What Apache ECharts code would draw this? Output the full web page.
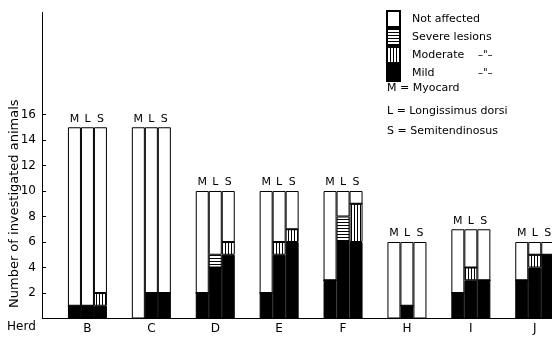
<!DOCTYPE html>
<html>
	<head>
		<meta charset="utf-8">
		<title></title>
		<style type="text/css">
			html, body { margin:0 ; padding:0 ; background:#fff ;}
			#chart { width:552px ; height:338px ;}
		</style>
		<script src="https://cdn.jsdelivr.net/npm/echarts@6/dist/echarts.min.js"></script>
	</head>
	<body>
		<div id="chart"></div>
		<script type="text/javascript">
		var herds = ['B', 'C', 'D', 'E', 'F', 'H', 'I', 'J'];
		var muscles = ['M', 'L', 'S'];
		var yTicks = [2, 4, 6, 8, 10, 12, 14, 16];

		// number of animals per herd, for each muscle
		var myoMild     = [1, 0, 2, 2, 3, 0, 2, 3];
		var myoModerate = [0, 0, 0, 0, 0, 0, 0, 0];
		var myoSevere   = [0, 0, 0, 0, 0, 0, 0, 0];
		var myoNot      = [14, 15, 8, 8, 7, 6, 5, 3];

		var lonMild     = [1, 2, 4, 5, 6, 1, 3, 4];
		var lonModerate = [0, 0, 0, 1, 0, 0, 1, 1];
		var lonSevere   = [0, 0, 1, 0, 2, 0, 0, 0];
		var lonNot      = [14, 13, 5, 4, 2, 5, 3, 1];

		var semMild     = [1, 2, 5, 6, 6, 0, 3, 5];
		var semModerate = [1, 0, 1, 1, 3, 0, 0, 0];
		var semSevere   = [0, 0, 0, 0, 0, 0, 0, 0];
		var semNot      = [13, 13, 4, 3, 1, 6, 4, 1];

		var table = {
			M: [myoMild, myoModerate, myoSevere, myoNot],
			L: [lonMild, lonModerate, lonSevere, lonNot],
			S: [semMild, semModerate, semSevere, semNot]
		};
		var levels = ['Mild', 'Moderate', 'Severe lesions', 'Not affected'];

		// hatch patterns
		function hatch(w, h, vertical){
			var c = document.createElement('canvas');
			c.width = w; c.height = h;
			var g = c.getContext('2d');
			g.fillStyle = '#fff'; g.fillRect(0, 0, w, h);
			g.fillStyle = '#000';
			if (vertical) g.fillRect(0, 0, 1, h); else g.fillRect(0, 0, w, 1);
			return {image: c, repeat: 'repeat'};
		}
		var fills = {
			'Mild': '#000',
			'Moderate': hatch(3, 3, true),
			'Severe lesions': hatch(3, 3, false),
			'Not affected': '#fff'
		};

		var series = [];
		muscles.forEach(function(m){
			levels.forEach(function(lv, k){
				var s = {
					type: 'bar',
					name: lv,
					stack: m,
					barWidth: 13,
					barGap: '0%',
					data: table[m][k],
					itemStyle: { color: fills[lv], borderColor: '#000', borderWidth: 1 }
				};
				if (lv == 'Not affected') {
					s.label = { show: true, position: 'top', distance: 3, formatter: m,
						color: '#000', fontSize: 11, fontFamily: 'DejaVu Sans' };
				}
				series.push(s);
			});
		});

		var font = 'DejaVu Sans';
		var myChart = echarts.init(document.getElementById('chart'));
		var option = {
			backgroundColor: '#fff',
			animation: false,
			textStyle: { fontFamily: font, color: '#000' },
			grid: { left: 55.5, width: 511.2, top: 12.5, bottom: 19.5, outerBoundsMode: 'none', containLabel: false },
			legend: {
				data: ['Not affected', 'Severe lesions', 'Moderate', 'Mild'],
				orient: 'vertical',
				left: 386, top: 10,
				padding: 0,
				itemWidth: 13, itemHeight: 16, itemGap: 0,
				icon: 'rect',
				selectedMode: false,
				formatter: function(n){
					if (n == 'Moderate' || n == 'Mild') return '{a|' + n + '}{b|–"–}';
					return n;
				},
				textStyle: {
					fontFamily: font, fontSize: 11, color: '#000', padding: [0, 0, 0, 7],
					rich: { a: { width: 66, fontFamily: font, fontSize: 11 }, b: { fontFamily: font, fontSize: 10 } }
				}
			},
			xAxis: {
				type: 'category',
				data: herds,
				splitLine: { show: false },
				axisTick: { show: false },
				axisLine: { lineStyle: { color: '#000', width: 1 } },
				axisLabel: { margin: 4, fontSize: 12, color: '#000', fontFamily: font }
			},
			yAxis: {
				type: 'value',
				min: 0, max: 24, interval: 2,
				offset: 13.5,
				splitLine: { show: false },
				axisLine: { show: true, onZero: false, lineStyle: { color: '#000', width: 1 } },
				axisTick: { show: true, inside: true, length: 4, customValues: yTicks, lineStyle: { color: '#000' } },
				axisLabel: { customValues: yTicks, margin: 6, fontSize: 12, color: '#000', fontFamily: font }
			},
			graphic: [
				{ type: 'line', shape: { x1: 42, y1: 318.5, x2: 56, y2: 318.5 }, style: { stroke: '#000', lineWidth: 1 } },
				{ type: 'text', left: 7, top: 321, style: { text: 'Herd', font: '12px ' + font, fill: '#000' } },
				{ type: 'text', x: 8, y: 308, rotation: Math.PI / 2,
				  style: { text: 'Number of investigated animals', font: '13px ' + font, fill: '#000' } },
				{ type: 'text', left: 387, top: 83, style: { text: 'M = Myocard', font: '11px ' + font, fill: '#000' } },
				{ type: 'text', left: 387, top: 106, style: { text: 'L = Longissimus dorsi', font: '11px ' + font, fill: '#000' } },
				{ type: 'text', left: 387, top: 126, style: { text: 'S = Semitendinosus', font: '11px ' + font, fill: '#000' } }
			],
			series: series
		};
		myChart.setOption(option, true);
		</script>
	</body>
</html>
